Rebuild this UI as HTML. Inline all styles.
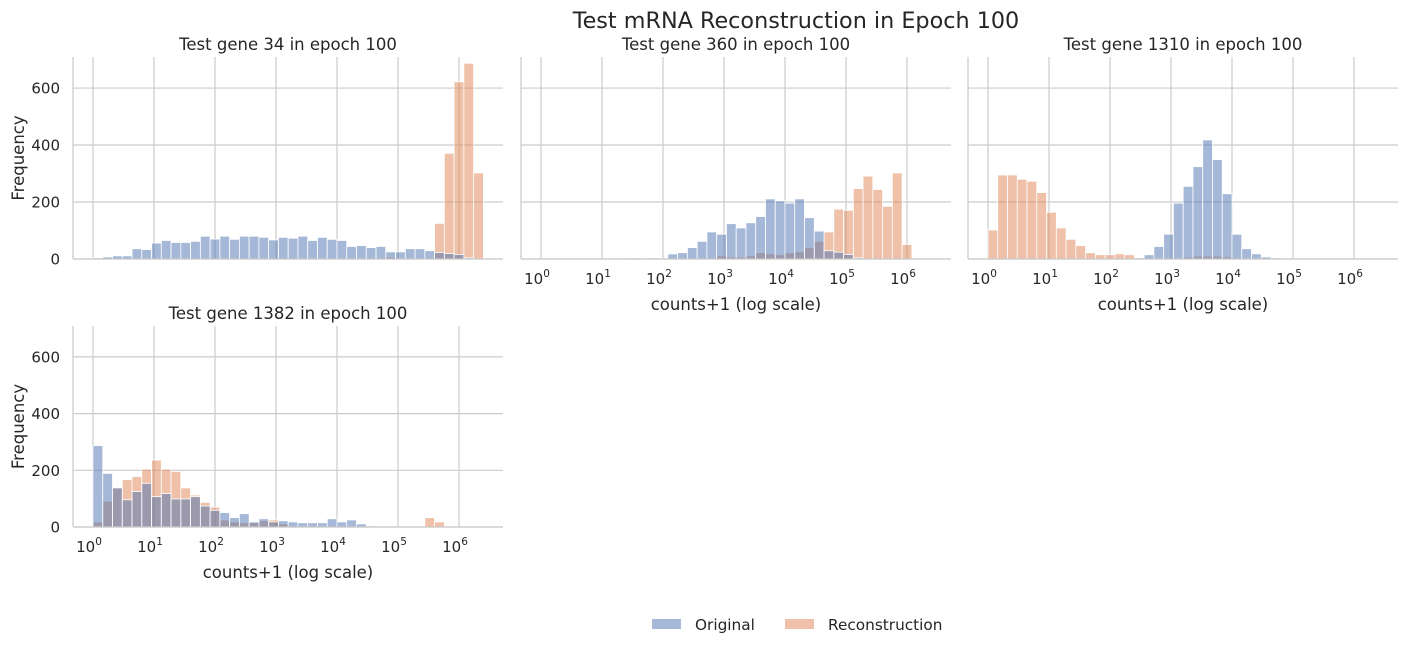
<!DOCTYPE html>
<html><head><meta charset="utf-8"><style>
body{margin:0;background:#fff}
svg text{font-family:"DejaVu Sans","Liberation Sans",sans-serif;fill:#262626}
</style></head><body>
<svg id="c" width="1407" height="648" xmlns="http://www.w3.org/2000/svg"></svg>
<script>
const titles=["Test gene 34 in epoch 100","Test gene 360 in epoch 100","Test gene 1310 in epoch 100","Test gene 1382 in epoch 100"];
const yTicks=[0,200,400,600];
const xTickExps=[0,1,2,3,4,5,6];
const binWidthDecades=0.16;
const orig1=[4,7,11,11,36,33,56,65,58,58,62,80,70,80,69,80,80,76,67,76,73,80,65,76,69,65,44,47,40,44,25,25,36,36,29,23,19,16,4,0];
const rec1=[0,0,0,0,0,0,0,0,0,0,0,0,0,0,0,0,0,0,0,0,0,0,0,0,0,0,0,0,0,0,7,0,0,0,4,125,371,622,687,302];
const orig2=[0,0,0,0,0,0,0,0,0,4,0,4,0,18,22,40,62,95,87,124,109,127,149,211,204,196,211,145,98,29,24,16,4,0,0,0,0,0,0,0];
const rec2=[0,0,0,0,0,0,0,0,0,0,0,0,0,0,0,0,0,4,11,7,7,11,22,18,15,22,25,40,62,95,175,171,247,291,244,185,302,51,0,0];
const orig3=[0,0,0,0,0,0,0,0,0,0,0,0,0,0,0,4,15,44,87,196,255,324,418,349,229,87,36,18,7,4,0,0,0,0,0,0,0,0,0,0];
const rec3=[102,295,295,280,273,233,164,109,69,47,22,15,15,18,15,4,0,0,0,0,7,10,10,10,7,0,0,0,0,0,0,0,0,0,0,0,0,0,0,0];
const orig4=[287,189,138,96,125,154,107,118,99,99,107,74,59,51,33,47,18,29,18,22,18,15,15,15,29,18,25,11,4,0,0,0,0,0,0,0,0,0,0,0];
const rec4=[18,91,138,167,178,204,236,204,196,138,113,87,70,25,18,15,15,22,25,11,0,0,0,0,0,0,0,0,0,0,0,0,0,0,33,18,0,0,0,0];
const panels=[
 {x0:73,top:57,bot:259,orig:orig1,rec:rec1,xlab:false,ylab:true},
 {x0:521,top:57,bot:259,orig:orig2,rec:rec2,xlab:true,ylab:false},
 {x0:968,top:57,bot:259,orig:orig3,rec:rec3,xlab:true,ylab:false},
 {x0:73,top:326,bot:527,orig:orig4,rec:rec4,xlab:true,ylab:true}];
const svg=document.getElementById('c');const NS='http://www.w3.org/2000/svg';
function mk(t,a,p){const e=document.createElementNS(NS,t);for(const k in a)e.setAttribute(k,a[k]);(p||svg).appendChild(e);return e;}
const PW=430,PX=61,YMAX=709;
let t=mk('text',{x:796,y:28,'font-size':22.3,'text-anchor':'middle'});t.textContent="Test mRNA Reconstruction in Epoch 100";

panels.forEach((p,i)=>{
 const g=mk('g',{});
 
 
 const h=p.bot-p.top;
 const xs=e=>p.x0+20+e*PX;
 const ys=v=>p.bot-v/YMAX*h;
 yTicks.forEach(v=>{mk('line',{x1:p.x0,x2:p.x0+PW,y1:ys(v),y2:ys(v),stroke:'#cccccc','stroke-width':1.2},g);
  if(p.ylab){const tt=mk('text',{x:p.x0-13,y:ys(v)+5.5,'font-size':15,'text-anchor':'end'},g);tt.textContent=v;}});
 xTickExps.forEach(e=>{mk('line',{x1:xs(e),x2:xs(e),y1:p.top,y2:p.bot,stroke:'#cccccc','stroke-width':1.2},g);
  if(p.xlab){const tt=mk('text',{x:xs(e)-4,y:p.bot+25,'font-size':15,'text-anchor':'middle'},g);tt.textContent='10';
   const s=mk('tspan',{dy:-7,'font-size':10.5},tt);s.textContent=e;}});
 [[p.rec,'#dd8452','bar-reconstruction'],[p.orig,'#4c72b0','bar-original']].forEach(([arr,col,nm])=>{
  arr.forEach((v,k)=>{if(!v)return;
   const x1=xs(k*binWidthDecades),x2=xs((k+1)*binWidthDecades);
   const r=mk('rect',{x:x1,y:ys(v),width:x2-x1,height:p.bot-ys(v),fill:col,'fill-opacity':0.5,stroke:'#fff','stroke-width':0.8},g);
   
   });});
 mk('line',{x1:p.x0,x2:p.x0,y1:p.top,y2:p.bot,stroke:'#cccccc','stroke-width':1.3},g);
 mk('line',{x1:p.x0,x2:p.x0+PW,y1:p.bot,y2:p.bot,stroke:'#cccccc','stroke-width':1.3},g);
 const tt=mk('text',{x:p.x0+PW/2,y:p.top-7,'font-size':16.5,'text-anchor':'middle'},g);tt.textContent=titles[i];
 if(p.xlab){const xl=mk('text',{x:p.x0+PW/2,y:p.bot+51,'font-size':16.5,'text-anchor':'middle'},g);xl.textContent="counts+1 (log scale)";}
 if(p.ylab){const yl=mk('text',{x:0,y:0,'font-size':16.5,'text-anchor':'middle',transform:`translate(24,${(p.top+p.bot)/2}) rotate(-90)`},g);yl.textContent="Frequency";}
});
const lg=mk('g',{});


mk('rect',{x:652,y:619,width:29,height:10,fill:'#4c72b0','fill-opacity':0.5},lg);
let l1=mk('text',{x:695,y:630,'font-size':15.3},lg);l1.textContent="Original";
mk('rect',{x:785,y:619,width:29,height:10,fill:'#dd8452','fill-opacity':0.5},lg);
let l2=mk('text',{x:828,y:630,'font-size':15.3},lg);l2.textContent="Reconstruction";
</script>
</body></html>
